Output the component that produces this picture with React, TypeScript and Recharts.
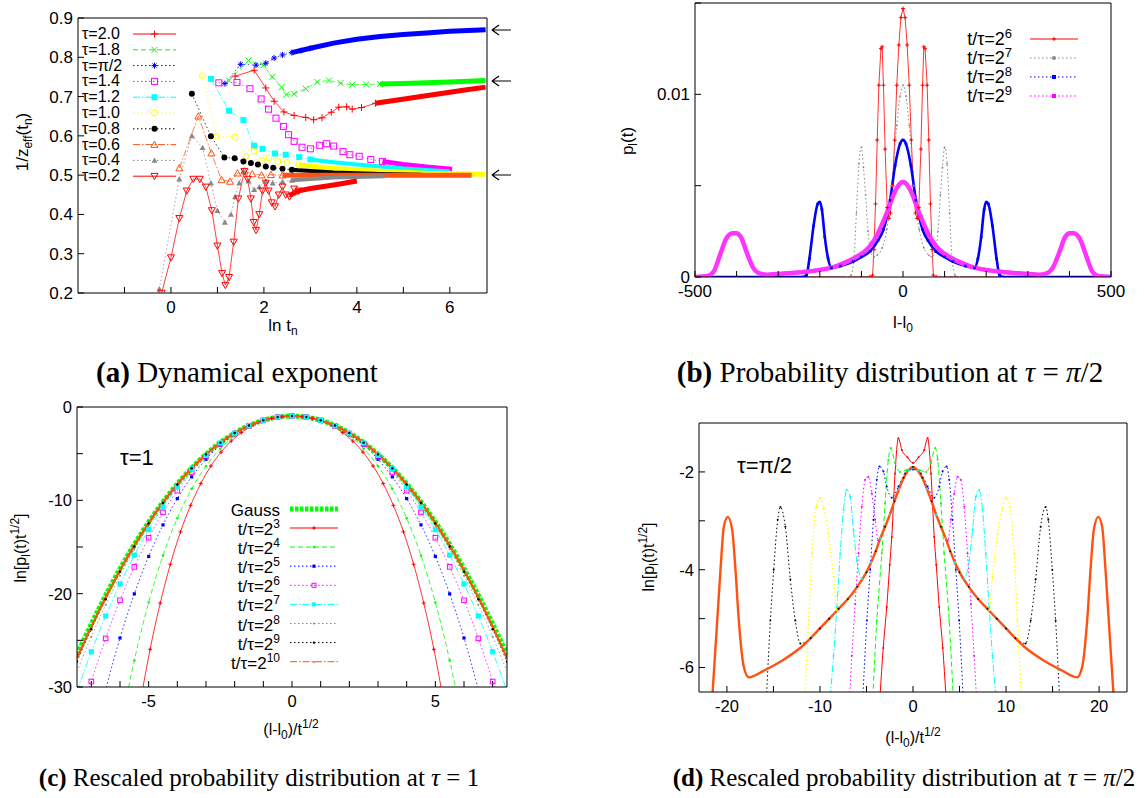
import { LineChart, Line, XAxis, YAxis } from 'recharts'
import type { ReactNode } from 'react'

const SANS = '"Liberation Sans", Arial, Helvetica, sans-serif'
const SERIF = '"Liberation Serif", "Times New Roman", Times, serif'

const RED = '#ff0000'
const GREEN = '#00ff00'
const BLUE = '#0000ff'
const MAGENTA = '#ff00ff'
const CYAN = '#00ffff'
const YELLOW = '#ffff00'
const BLACK = '#000000'
const ORANGE = '#ff5212'
const GRAY = '#888888'

const DASH = '5 3'
const DOT = '1.5 2.5'
const DASHDOT = '7 2 1.5 2'

// ---------- (a) dynamical exponent: x = ln t_n, y = 1/z_eff ----------
const A_X_TICKS = [-1, 0, 1, 2, 3, 4, 5, 6]
const A_Y_TICKS = [0.2, 0.3, 0.4, 0.5, 0.6, 0.7, 0.8, 0.9]

const A_X_T20 = [1.38, 1.79, 2.04, 2.22, 2.43, 2.65, 2.9, 3.07, 3.25, 3.45, 3.61, 3.78, 3.9, 4.1, 4.4]
const A_T20 = [0.752, 0.767, 0.722, 0.688, 0.661, 0.652, 0.647, 0.641, 0.646, 0.66, 0.673, 0.674, 0.668, 0.672, 0.683]
const A_XT_T20 = [4.4, 4.8, 5.2, 5.6, 6.0, 6.4, 6.77]
const A_YT_T20 = [0.683, 0.69, 0.697, 0.704, 0.711, 0.718, 0.724]

const A_X_T18 = [1.25, 1.67, 1.99, 2.18, 2.38, 2.48, 2.65, 2.9, 3.15, 3.4, 3.65, 3.9, 4.2, 4.5]
const A_T18 = [0.741, 0.792, 0.78, 0.75, 0.724, 0.705, 0.707, 0.72, 0.737, 0.741, 0.734, 0.73, 0.731, 0.732]
const A_XT_T18 = [4.5, 5.0, 5.5, 6.0, 6.4, 6.77]
const A_YT_T18 = [0.732, 0.733, 0.735, 0.737, 0.739, 0.741]

const A_X_PI2 = [1.16, 1.5, 1.83, 2.04, 2.22, 2.4, 2.6, 2.8, 3.0]
const A_PI2 = [0.733, 0.782, 0.78, 0.785, 0.798, 0.806, 0.812, 0.817, 0.823]
const A_XT_PI2 = [2.6, 3.0, 3.5, 4.0, 4.5, 5.0, 5.5, 6.0, 6.4, 6.77]
const A_YT_PI2 = [0.812, 0.823, 0.836, 0.846, 0.853, 0.858, 0.862, 0.866, 0.868, 0.87]

const A_X_T14 = [1.03, 1.42, 1.7, 1.94, 2.1, 2.26, 2.42, 2.53, 2.65, 2.82, 3.0, 3.2, 3.35, 3.5, 3.7, 3.85, 4.05, 4.3, 4.55]
const A_T14 = [0.735, 0.736, 0.72, 0.694, 0.668, 0.645, 0.624, 0.603, 0.586, 0.571, 0.567, 0.576, 0.58, 0.574, 0.56, 0.552, 0.548, 0.54, 0.535]
const A_XT_T14 = [4.55, 5.0, 5.5, 6.05]
const A_YT_T14 = [0.535, 0.527, 0.521, 0.515]

const A_X_T12 = [0.86, 1.25, 1.56, 1.79, 1.97, 2.24, 2.47, 2.76, 3.0]
const A_T12 = [0.745, 0.664, 0.64, 0.575, 0.567, 0.555, 0.552, 0.546, 0.54]
const A_XT_T12 = [3.0, 3.5, 4.0, 4.5, 5.0, 5.5, 6.0]
const A_YT_T12 = [0.54, 0.533, 0.527, 0.522, 0.517, 0.513, 0.509]

const A_X_T10 = [0.68, 0.98, 1.38, 1.62, 1.79, 1.96, 2.11, 2.3, 2.5, 2.75]
const A_T10 = [0.753, 0.599, 0.597, 0.548, 0.561, 0.537, 0.544, 0.535, 0.532, 0.526]
const A_XT_T10 = [2.75, 3.5, 4.5, 5.5, 6.77]
const A_YT_T10 = [0.526, 0.517, 0.51, 0.505, 0.502]

const A_X_T08 = [0.45, 0.86, 1.15, 1.37, 1.56, 1.72, 1.87, 2.04, 2.2, 2.4, 2.6]
const A_T08 = [0.707, 0.599, 0.545, 0.543, 0.535, 0.531, 0.527, 0.522, 0.519, 0.516, 0.514]
const A_XT_T08 = [2.6, 3.5, 4.5, 5.4]
const A_YT_T08 = [0.514, 0.507, 0.503, 0.501]

const A_X_T06 = [0.18, 0.59, 0.87, 1.09, 1.27, 1.43, 1.58, 1.75, 1.95, 2.15, 2.4]
const A_T06 = [0.518, 0.65, 0.556, 0.488, 0.484, 0.505, 0.51, 0.503, 0.5, 0.501, 0.5]
const A_XT_T06 = [2.4, 4.0, 5.5, 6.47]
const A_YT_T06 = [0.5, 0.5, 0.5, 0.5]

const A_X_T04 = [-0.25, 0.18, 0.45, 0.68, 0.86, 1.0, 1.16, 1.29, 1.38, 1.47, 1.56, 1.67, 1.79, 1.9, 2.04, 2.19, 2.4, 2.6]
const A_T04 = [0.21, 0.49, 0.6, 0.57, 0.48, 0.41, 0.38, 0.4, 0.445, 0.48, 0.51, 0.485, 0.463, 0.47, 0.485, 0.48, 0.483, 0.487]
const A_XT_T04 = [2.6, 3.5, 4.6]
const A_YT_T04 = [0.487, 0.494, 0.497]

const A_X_T02 = [-0.2, 0, 0.18, 0.34, 0.48, 0.62, 0.75, 0.88, 1.0, 1.1, 1.17, 1.25, 1.35, 1.45, 1.58, 1.65, 1.72, 1.78, 1.83, 1.9, 1.97, 2.04, 2.1, 2.17, 2.24, 2.32, 2.4, 2.47, 2.55, 2.65, 2.75]
const A_T02 = [0.2, 0.29, 0.39, 0.46, 0.49, 0.49, 0.47, 0.41, 0.32, 0.25, 0.22, 0.24, 0.33, 0.44, 0.51, 0.49, 0.44, 0.38, 0.36, 0.4, 0.46, 0.48, 0.46, 0.43, 0.42, 0.45, 0.47, 0.45, 0.445, 0.465, 0.46]
const A_XT_T02 = [2.55, 2.75, 3.0, 3.5, 4.0]
const A_YT_T02 = [0.448, 0.46, 0.466, 0.475, 0.485]

// ---------- (b) probability distribution at tau = pi/2 ----------
const B_X_TICKS = [-500, -400, -300, -200, -100, 0, 100, 200, 300, 400, 500]
const B_Y_TICKS = [0, 0.005, 0.01, 0.015]

const B_X_RED = [-500, -80, -73, -70, -66, -62, -58, -53, -50, -47, -43, -38, -34, -30, -25, -20, -15, -10, -5, 0, 5, 10, 15, 20, 25, 30, 34, 38, 43, 47, 50, 53, 58, 62, 66, 70, 73, 80, 500]
const B_RED = [0, 0, 0.0001, 0.0015, 0.004, 0.0075, 0.0105, 0.0125, 0.0126, 0.0105, 0.007, 0.0038, 0.0032, 0.0035, 0.005, 0.0075, 0.0105, 0.0127, 0.0142, 0.0147, 0.0142, 0.0127, 0.0105, 0.0075, 0.005, 0.0035, 0.0032, 0.0038, 0.007, 0.0105, 0.0126, 0.0125, 0.0105, 0.0075, 0.004, 0.0015, 0.0001, 0, 0]

const B_X_GRAY = [-500, -135, -125, -118, -112, -106, -100, -95, -90, -84, -78, -70, -62, -50, -39, -27, -15, -7, 0, 7, 15, 27, 39, 50, 62, 70, 78, 84, 90, 95, 100, 106, 112, 118, 125, 135, 500]
const B_GRAY = [0, 0, 0.0001, 0.001, 0.0035, 0.0062, 0.0071, 0.006, 0.0045, 0.0025, 0.0014, 0.0011, 0.0012, 0.0016, 0.0026, 0.005, 0.0083, 0.0099, 0.0105, 0.0099, 0.0083, 0.005, 0.0026, 0.0016, 0.0012, 0.0011, 0.0014, 0.0025, 0.0045, 0.006, 0.0071, 0.0062, 0.0035, 0.001, 0.0001, 0, 0]

const B_X_BLUE = [-500, -240, -232, -225, -215, -205, -200, -195, -188, -180, -172, -150, -120, -100, -79, -60, -47, -31, -19, -7, 0, 7, 19, 31, 47, 60, 79, 100, 120, 150, 172, 180, 188, 195, 200, 205, 215, 225, 232, 240, 500]
const B_BLUE = [0, 0, 0.0001, 0.001, 0.0028, 0.004, 0.0041, 0.0037, 0.0022, 0.001, 0.0005, 0.0006, 0.00084, 0.0011, 0.0014, 0.002, 0.0026, 0.0042, 0.0061, 0.0073, 0.0075, 0.0073, 0.0061, 0.0042, 0.0026, 0.002, 0.0014, 0.0011, 0.00084, 0.0006, 0.0005, 0.001, 0.0022, 0.0037, 0.0041, 0.004, 0.0028, 0.001, 0.0001, 0, 0]

const B_X_MAG = [-500, -470, -455, -440, -425, -410, -400, -390, -375, -360, -345, -326, -280, -228, -160, -120, -79, -60, -39, -19, -8, 0, 8, 19, 39, 60, 79, 120, 160, 228, 280, 326, 345, 360, 375, 390, 400, 410, 425, 440, 455, 470, 500]
const B_MAG = [0, 0.00005, 0.0003, 0.0012, 0.0021, 0.0024, 0.0024, 0.0022, 0.0013, 0.0005, 0.0002, 0.00013, 0.0002, 0.0003, 0.0006, 0.001, 0.0017, 0.0024, 0.0035, 0.0047, 0.0051, 0.0052, 0.0051, 0.0047, 0.0035, 0.0024, 0.0017, 0.001, 0.0006, 0.0003, 0.0002, 0.00013, 0.0002, 0.0005, 0.0013, 0.0022, 0.0024, 0.0024, 0.0021, 0.0012, 0.0003, 0.00005, 0]

// ---------- (c) rescaled distribution at tau = 1 ----------
const C_X_TICKS = [-7, -6, -5, -4, -3, -2, -1, 0, 1, 2, 3, 4, 5, 6, 7]
const C_Y_TICKS = [-30, -25, -20, -15, -10, -5, 0]

const C_X_Q = [-7.5, -7.25, -7, -6.75, -6.5, -6.25, -6, -5.75, -5.5, -5.25, -5, -4.75, -4.5, -4.25, -4, -3.75, -3.5, -3.25, -3, -2.75, -2.5, -2.25, -2, -1.75, -1.5, -1.25, -1, -0.75, -0.5, -0.25, 0, 0.25, 0.5, 0.75, 1, 1.25, 1.5, 1.75, 2, 2.25, 2.5, 2.75, 3, 3.25, 3.5, 3.75, 4, 4.25, 4.5, 4.75, 5, 5.25, 5.5, 5.75, 6, 6.25, 6.5, 6.75, 7, 7.25, 7.5]
const C_GAUSS = [-26.54, -24.86, -23.24, -21.68, -20.17, -18.73, -17.33, -16.0, -14.72, -13.5, -12.33, -11.23, -10.17, -9.18, -8.24, -7.36, -6.54, -5.77, -5.06, -4.41, -3.81, -3.27, -2.79, -2.36, -1.99, -1.68, -1.42, -1.23, -1.08, -1.0, -0.97, -1.0, -1.08, -1.23, -1.42, -1.68, -1.99, -2.36, -2.79, -3.27, -3.81, -4.41, -5.06, -5.77, -6.54, -7.36, -8.24, -9.18, -10.17, -11.23, -12.33, -13.5, -14.72, -16.0, -17.33, -18.73, -20.17, -21.68, -23.24, -24.86, -26.54]

const C_X_RED = [-5.303, -4.95, -4.596, -4.243, -3.889, -3.536, -3.182, -2.828, -2.475, -2.121, -1.768, -1.414, -1.061, -0.707, -0.354, 0, 0.354, 0.707, 1.061, 1.414, 1.768, 2.121, 2.475, 2.828, 3.182, 3.536, 3.889, 4.243, 4.596, 4.95, 5.303]
const C_RED = [-31.8, -25.96, -21.0, -16.85, -13.38, -10.54, -8.21, -6.32, -4.83, -3.65, -2.74, -2.05, -1.56, -1.22, -1.03, -0.97, -1.03, -1.22, -1.56, -2.05, -2.74, -3.65, -4.83, -6.32, -8.21, -10.54, -13.38, -16.85, -21.0, -25.96, -31.8]

const C_X_H = [-7.5, -7, -6.5, -6, -5.5, -5, -4.5, -4, -3.5, -3, -2.5, -2, -1.5, -1, -0.5, 0, 0.5, 1, 1.5, 2, 2.5, 3, 3.5, 4, 4.5, 5, 5.5, 6, 6.5, 7, 7.5]
const C_GREEN = [-68.2, -55.0, -43.9, -34.7, -27.15, -20.94, -15.92, -11.92, -8.77, -6.33, -4.47, -3.1, -2.12, -1.46, -1.09, -0.97, -1.09, -1.46, -2.12, -3.1, -4.47, -6.33, -8.77, -11.92, -15.92, -20.94, -27.15, -34.7, -43.9, -55.0, -68.2]
const C_BLUE = [-44.3, -36.8, -30.32, -24.75, -20.02, -16.01, -12.63, -9.81, -7.49, -5.6, -4.09, -2.92, -2.05, -1.44, -1.09, -0.97, -1.09, -1.44, -2.05, -2.92, -4.09, -5.6, -7.49, -9.81, -12.63, -16.01, -20.02, -24.75, -30.32, -36.8, -44.3]
const C_MAG = [-34.6, -29.41, -24.79, -20.71, -17.13, -14.01, -11.29, -8.96, -6.97, -5.31, -3.94, -2.85, -2.02, -1.43, -1.08, -0.97, -1.08, -1.43, -2.02, -2.85, -3.94, -5.31, -6.97, -8.96, -11.29, -14.01, -17.13, -20.71, -24.79, -29.41, -34.6]
const C_CYAN = [-30.44, -26.22, -22.39, -18.96, -15.88, -13.14, -10.71, -8.59, -6.62, -5.18, -3.86, -2.82, -2.01, -1.43, -1.08, -0.97, -1.08, -1.43, -2.01, -2.82, -3.86, -5.18, -6.62, -8.59, -10.71, -13.14, -15.88, -18.96, -22.39, -26.22, -30.44]
const C_GRAY = [-28.33, -24.61, -21.19, -18.08, -15.25, -12.7, -10.42, -8.4, -6.64, -5.11, -3.84, -2.8, -1.99, -1.42, -1.08, -0.97, -1.08, -1.42, -1.99, -2.8, -3.84, -5.11, -6.64, -8.4, -10.42, -12.7, -15.25, -18.08, -21.19, -24.61, -28.33]
const C_BLACK = [-27.28, -23.81, -20.6, -17.64, -14.94, -12.48, -10.27, -8.31, -6.57, -5.08, -3.82, -2.79, -1.99, -1.42, -1.08, -0.97, -1.08, -1.42, -1.99, -2.79, -3.82, -5.08, -6.57, -8.31, -10.27, -12.48, -14.94, -17.64, -20.6, -23.81, -27.28]
const C_ORG = [-26.91, -23.53, -20.38, -17.49, -14.83, -12.41, -10.22, -8.27, -6.55, -5.07, -3.81, -2.79, -1.99, -1.42, -1.08, -0.97, -1.08, -1.42, -1.99, -2.79, -3.81, -5.07, -6.55, -8.27, -10.22, -12.41, -14.83, -17.49, -20.38, -23.53, -26.91]

// ---------- (d) rescaled distribution at tau = pi/2 ----------
const D_X_TICKS = [-20, -15, -10, -5, 0, 5, 10, 15, 20]
const D_Y_TICKS = [-6, -5, -4, -3, -2]

const D_X_RED = [-3.55, -3.2, -2.82, -2.5, -2.28, -1.93, -1.57, -1.2, -0.6, 0, 0.6, 1.2, 1.57, 1.93, 2.28, 2.5, 2.82, 3.2, 3.55]
const D_RED = [-6.6, -5.6, -4.76, -3.9, -3.33, -2.03, -1.31, -1.55, -1.7, -1.82, -1.7, -1.55, -1.31, -2.03, -3.33, -3.9, -4.76, -5.6, -6.6]

const D_X_GREEN = [-4.32, -3.89, -3.35, -3.0, -2.65, -2.39, -1.93, -1.4, -0.7, 0, 0.7, 1.4, 1.93, 2.39, 2.65, 3.0, 3.35, 3.89, 4.32]
const D_GREEN = [-6.6, -5.04, -3.67, -2.64, -1.75, -1.51, -1.82, -2.0, -1.96, -1.93, -1.96, -2.0, -1.82, -1.51, -1.75, -2.64, -3.67, -5.04, -6.6]

const D_X_BLUE = [-5.39, -4.96, -4.6, -4.25, -3.89, -3.61, -3.18, -2.82, -2.28, -1.57, -0.86, 0, 0.86, 1.57, 2.28, 2.82, 3.18, 3.61, 3.89, 4.25, 4.6, 4.96, 5.39]
const D_BLUE = [-6.6, -5.04, -4.0, -2.98, -2.16, -1.89, -1.99, -2.3, -2.53, -2.3, -2.03, -1.95, -2.03, -2.3, -2.53, -2.3, -1.99, -1.89, -2.16, -2.98, -4.0, -5.04, -6.6]

const D_X_MAG = [-6.82, -6.57, -6.22, -5.86, -5.5, -5.14, -4.79, -4.43, -4.07, -3.75, -3.0, -2.0, -1.0, 0, 1.0, 2.0, 3.0, 3.75, 4.07, 4.43, 4.79, 5.14, 5.5, 5.86, 6.22, 6.57, 6.82]
const D_MAG = [-6.6, -5.76, -4.7, -3.67, -2.71, -2.16, -2.1, -2.44, -2.98, -3.4, -3.12, -2.6, -2.12, -1.92, -2.12, -2.6, -3.12, -3.4, -2.98, -2.44, -2.1, -2.16, -2.71, -3.67, -4.7, -5.76, -6.6]

const D_X_CYAN = [-8.9, -8.54, -8.18, -7.82, -7.47, -7.11, -6.75, -6.4, -6.04, -5.5, -4.5, -3.5, -2.5, -1.5, -0.5, 0, 0.5, 1.5, 2.5, 3.5, 4.5, 5.5, 6.04, 6.4, 6.75, 7.11, 7.47, 7.82, 8.18, 8.54, 8.9]
const D_CYAN = [-6.6, -5.76, -4.76, -3.67, -2.78, -2.37, -2.51, -3.19, -3.81, -4.18, -3.85, -3.35, -2.88, -2.35, -1.97, -1.92, -1.97, -2.35, -2.88, -3.35, -3.85, -4.18, -3.81, -3.19, -2.51, -2.37, -2.78, -3.67, -4.76, -5.76, -6.6]

const D_X_YEL = [-11.65, -11.22, -10.86, -10.4, -10.0, -9.6, -9.08, -8.54, -8.18, -7, -6, -5, -4, -3, -2, -1, 0, 1, 2, 3, 4, 5, 6, 7, 8.18, 8.54, 9.08, 9.6, 10.0, 10.4, 10.86, 11.22, 11.65]
const D_YEL = [-6.6, -5.04, -3.67, -2.71, -2.53, -2.75, -3.26, -4.15, -4.83, -4.6, -4.35, -4.05, -3.62, -3.12, -2.6, -2.12, -1.9, -2.12, -2.6, -3.12, -3.62, -4.05, -4.35, -4.6, -4.83, -4.15, -3.26, -2.75, -2.53, -2.71, -3.67, -5.04, -6.6]

const D_X_BLK = [-15.75, -15.33, -14.97, -14.54, -14.25, -13.72, -13.18, -12.65, -12.1, -11, -10, -9, -8, -7, -6, -5, -4, -3, -2, -1, 0, 1, 2, 3, 4, 5, 6, 7, 8, 9, 10, 11, 12.1, 12.65, 13.18, 13.72, 14.25, 14.54, 14.97, 15.33, 15.75]
const D_BLK = [-6.6, -5.04, -4.0, -2.98, -2.72, -3.12, -4.2, -5.04, -5.51, -5.4, -5.2, -5.0, -4.8, -4.6, -4.35, -4.05, -3.62, -3.12, -2.6, -2.12, -1.9, -2.12, -2.6, -3.12, -3.62, -4.05, -4.35, -4.6, -4.8, -5.0, -5.2, -5.4, -5.51, -5.04, -4.2, -3.12, -2.72, -2.98, -4.0, -5.04, -6.6]

const D_X_ORG = [-21.57, -21.04, -20.69, -20.33, -19.9, -19.43, -19.08, -18.72, -18.18, -17.65, -16, -14, -12, -10, -9, -8, -7, -6, -5, -4, -3.5, -3, -2.5, -2, -1.5, -1, -0.5, 0, 0.5, 1, 1.5, 2, 2.5, 3, 3.5, 4, 5, 6, 7, 8, 9, 10, 12, 14, 16, 17.65, 18.18, 18.72, 19.08, 19.43, 19.9, 20.33, 20.69, 21.04, 21.57]
const D_ORG = [-6.6, -5.04, -4.0, -3.12, -2.92, -3.19, -4.0, -5.04, -5.99, -6.2, -6.06, -5.85, -5.58, -5.2, -5.0, -4.8, -4.6, -4.35, -4.05, -3.62, -3.35, -3.12, -2.88, -2.6, -2.35, -2.12, -1.97, -1.9, -1.97, -2.12, -2.35, -2.6, -2.88, -3.12, -3.35, -3.62, -4.05, -4.35, -4.6, -4.8, -5.0, -5.2, -5.58, -5.85, -6.06, -6.2, -5.99, -5.04, -4.0, -3.19, -2.92, -3.12, -4.0, -5.04, -6.6]

const pts = (xs: number[], ys: number[]) => xs.map((x, i) => ({ x, y: ys[i] }))

type Mk = 'plus' | 'cross' | 'star' | 'sq' | 'sqo' | 'circ' | 'circo' | 'tri' | 'trio' | 'dtrio' | 'dot' | 'none'

function drawMarker(kind: Mk, color: string, r: number, cx: number, cy: number, key?: string) {
  const common = { stroke: color, strokeWidth: 1, fill: 'none' }
  switch (kind) {
    case 'plus':
      return <path key={key} d={`M${cx - r},${cy}H${cx + r}M${cx},${cy - r}V${cy + r}`} {...common} />
    case 'cross':
      return <path key={key} d={`M${cx - r},${cy - r}L${cx + r},${cy + r}M${cx - r},${cy + r}L${cx + r},${cy - r}`} {...common} />
    case 'star':
      return (
        <path
          key={key}
          d={`M${cx - r},${cy}H${cx + r}M${cx},${cy - r}V${cy + r}M${cx - r * 0.7},${cy - r * 0.7}L${cx + r * 0.7},${cy + r * 0.7}M${cx - r * 0.7},${cy + r * 0.7}L${cx + r * 0.7},${cy - r * 0.7}`}
          {...common}
        />
      )
    case 'sq':
      return <rect key={key} x={cx - r} y={cy - r} width={2 * r} height={2 * r} fill={color} />
    case 'sqo':
      return <rect key={key} x={cx - r} y={cy - r} width={2 * r} height={2 * r} {...common} />
    case 'circ':
      return <circle key={key} cx={cx} cy={cy} r={r} fill={color} />
    case 'circo':
      return <circle key={key} cx={cx} cy={cy} r={r} {...common} />
    case 'tri':
      return <path key={key} d={`M${cx},${cy - r}L${cx + r},${cy + r * 0.8}L${cx - r},${cy + r * 0.8}Z`} fill={color} />
    case 'trio':
      return <path key={key} d={`M${cx},${cy - r}L${cx + r},${cy + r * 0.8}L${cx - r},${cy + r * 0.8}Z`} {...common} />
    case 'dtrio':
      return <path key={key} d={`M${cx},${cy + r}L${cx + r},${cy - r * 0.8}L${cx - r},${cy - r * 0.8}Z`} {...common} />
    case 'dot':
      return <circle key={key} cx={cx} cy={cy} r={r} fill={color} />
    default:
      return <g key={key} />
  }
}

const dotFn = (kind: Mk, color: string, r: number) => (p: any) => {
  const key = `d${p.index}`
  if (p.cx == null || p.cy == null || !isFinite(p.cx) || !isFinite(p.cy)) return <g key={key} />
  return drawMarker(kind, color, r, p.cx, p.cy, key)
}

const LW = 70
const RW = 30
const TH = 20
const BH = 40

function Panel(props: {
  left: number
  top: number
  w: number
  h: number
  font: number
  xDomain: [number, number]
  xTicks: number[]
  xFmt: (v: number) => string
  yDomain: [number, number]
  yTicks: number[]
  yFmt: (v: number) => string
  children: ReactNode
}) {
  const { left, top, w, h } = props
  const tickStyle = { fill: '#000', fontSize: props.font, fontFamily: SANS }
  return (
    <div style={{ position: 'absolute', left: left - LW, top: top - TH }}>
      <LineChart width={LW + w + RW} height={TH + h + BH} margin={{ top: 0, right: 0, bottom: 0, left: 0 }}>
        <XAxis
          xAxisId="b"
          type="number"
          dataKey="x"
          domain={props.xDomain}
          ticks={props.xTicks}
          tickFormatter={props.xFmt}
          interval={0}
          allowDataOverflow
          height={BH}
          tickSize={-6}
          tickMargin={14}
          stroke="#000"
          tick={tickStyle}
        />
        <XAxis
          xAxisId="t"
          orientation="top"
          type="number"
          dataKey="x"
          domain={props.xDomain}
          ticks={props.xTicks}
          interval={0}
          allowDataOverflow
          height={TH}
          tickSize={-6}
          tick={false}
          stroke="#000"
        />
        <YAxis
          yAxisId="l"
          type="number"
          domain={props.yDomain}
          ticks={props.yTicks}
          tickFormatter={props.yFmt}
          interval={0}
          allowDataOverflow
          width={LW}
          tickSize={-6}
          tickMargin={11}
          stroke="#000"
          tick={tickStyle}
        />
        <YAxis
          yAxisId="r"
          orientation="right"
          type="number"
          domain={props.yDomain}
          ticks={props.yTicks}
          interval={0}
          allowDataOverflow
          width={RW}
          tickSize={-6}
          tick={false}
          stroke="#000"
        />
        {props.children}
      </LineChart>
    </div>
  )
}

function series(
  key: string,
  data: { x: number; y: number }[],
  color: string,
  opts: { width?: number; dash?: string; mk?: Mk; r?: number; curve?: 'linear' | 'monotone'; opacity?: number } = {}
) {
  return (
    <Line
      key={key}
      data={data}
      dataKey="y"
      xAxisId="b"
      yAxisId="l"
      type={opts.curve ?? 'linear'}
      stroke={color}
      strokeOpacity={opts.opacity ?? 1}
      strokeWidth={opts.width ?? 1}
      strokeDasharray={opts.dash}
      dot={opts.mk && opts.mk !== 'none' ? dotFn(opts.mk, color, opts.r ?? 2) : false}
      activeDot={false}
      isAnimationActive={false}
    />
  )
}

const A_SERIES = [
  { label: '2.0', xs: A_X_T20, ys: A_T20, tx: A_XT_T20, ty: A_YT_T20, color: RED, dash: undefined, mk: 'plus' as Mk, r: 3.5, tw: 5 },
  { label: '1.8', xs: A_X_T18, ys: A_T18, tx: A_XT_T18, ty: A_YT_T18, color: GREEN, dash: DASH, mk: 'cross' as Mk, r: 3, tw: 5 },
  { label: 'π/2', xs: A_X_PI2, ys: A_PI2, tx: A_XT_PI2, ty: A_YT_PI2, color: BLUE, dash: DOT, mk: 'star' as Mk, r: 3, tw: 5 },
  { label: '1.4', xs: A_X_T14, ys: A_T14, tx: A_XT_T14, ty: A_YT_T14, color: MAGENTA, dash: DOT, mk: 'sqo' as Mk, r: 3, tw: 5 },
  { label: '1.2', xs: A_X_T12, ys: A_T12, tx: A_XT_T12, ty: A_YT_T12, color: CYAN, dash: DASHDOT, mk: 'sq' as Mk, r: 3, tw: 4 },
  { label: '1.0', xs: A_X_T10, ys: A_T10, tx: A_XT_T10, ty: A_YT_T10, color: YELLOW, dash: DOT, mk: 'circo' as Mk, r: 3, tw: 5 },
  { label: '0.8', xs: A_X_T08, ys: A_T08, tx: A_XT_T08, ty: A_YT_T08, color: BLACK, dash: DOT, mk: 'circ' as Mk, r: 3, tw: 4 },
  { label: '0.6', xs: A_X_T06, ys: A_T06, tx: A_XT_T06, ty: A_YT_T06, color: ORANGE, dash: DASHDOT, mk: 'trio' as Mk, r: 3.5, tw: 5 },
  { label: '0.4', xs: A_X_T04, ys: A_T04, tx: A_XT_T04, ty: A_YT_T04, color: GRAY, dash: DOT, mk: 'tri' as Mk, r: 3, tw: 4 },
  { label: '0.2', xs: A_X_T02, ys: A_T02, tx: A_XT_T02, ty: A_YT_T02, color: RED, dash: undefined, mk: 'dtrio' as Mk, r: 3.5, tw: 5 }
]

const C_SERIES = [
  { exp: '3', xs: C_X_RED, ys: C_RED, color: RED, dash: undefined, mk: 'plus' as Mk, r: 2, w: 1 },
  { exp: '4', xs: C_X_H, ys: C_GREEN, color: GREEN, dash: DASH, mk: 'dot' as Mk, r: 1.3, w: 1 },
  { exp: '5', xs: C_X_H, ys: C_BLUE, color: BLUE, dash: DOT, mk: 'sq' as Mk, r: 1.6, w: 1 },
  { exp: '6', xs: C_X_H, ys: C_MAG, color: MAGENTA, dash: DOT, mk: 'sqo' as Mk, r: 2.3, w: 1 },
  { exp: '7', xs: C_X_H, ys: C_CYAN, color: CYAN, dash: DASHDOT, mk: 'sq' as Mk, r: 2.6, w: 1 },
  { exp: '8', xs: C_X_H, ys: C_GRAY, color: GRAY, dash: DOT, mk: 'dot' as Mk, r: 1, w: 1 },
  { exp: '9', xs: C_X_H, ys: C_BLACK, color: BLACK, dash: DOT, mk: 'dot' as Mk, r: 1.2, w: 1 },
  { exp: '10', xs: C_X_H, ys: C_ORG, color: ORANGE, dash: undefined, mk: 'none' as Mk, r: 1.2, w: 2.2 }
]

const D_SERIES = [
  { xs: D_X_RED, ys: D_RED, color: RED, dash: undefined, w: 1 },
  { xs: D_X_GREEN, ys: D_GREEN, color: GREEN, dash: DASH, w: 1 },
  { xs: D_X_BLUE, ys: D_BLUE, color: BLUE, dash: DOT, w: 1 },
  { xs: D_X_MAG, ys: D_MAG, color: MAGENTA, dash: DOT, w: 1 },
  { xs: D_X_CYAN, ys: D_CYAN, color: CYAN, dash: DASHDOT, w: 1 },
  { xs: D_X_YEL, ys: D_YEL, color: YELLOW, dash: DOT, w: 1.2 },
  { xs: D_X_BLK, ys: D_BLK, color: BLACK, dash: DOT, w: 1 },
  { xs: D_X_ORG, ys: D_ORG, color: ORANGE, dash: undefined, w: 2.4 }
]

function Sample(p: { x1: number; x2: number; y: number; color: string; dash?: string; w?: number; mk?: Mk; r?: number }) {
  const cx = (p.x1 + p.x2) / 2
  return (
    <g>
      <line x1={p.x1} x2={p.x2} y1={p.y} y2={p.y} stroke={p.color} strokeWidth={p.w ?? 1} strokeDasharray={p.dash} />
      {p.mk && p.mk !== 'none' ? drawMarker(p.mk, p.color, p.r ?? 2, cx, p.y) : null}
    </g>
  )
}

function Overlay() {
  const sub = 12
  return (
    <svg width={1144} height={798} style={{ position: 'absolute', left: 0, top: 0, pointerEvents: 'none' }}>
      {/* (a) labels */}
      <text transform="translate(28,142) rotate(-90)" textAnchor="middle" fontFamily={SANS} fontSize={17}>
        1/z<tspan fontSize={sub} dy={4}>eff</tspan>
        <tspan dy={-4}>(t</tspan>
        <tspan fontSize={sub} dy={4}>n</tspan>
        <tspan dy={-4}>)</tspan>
      </text>
      <text x={283} y={331} textAnchor="middle" fontFamily={SANS} fontSize={17}>
        ln t<tspan fontSize={sub} dy={4}>n</tspan>
      </text>
      {A_SERIES.map((s, i) => {
        const y = 34 + i * 15.8
        return (
          <g key={'al' + i}>
            <text x={82} y={y + 5} fontFamily={SANS} fontSize={16}>
              τ={s.label}
            </text>
            <Sample x1={133} x2={176} y={y} color={s.color} dash={s.dash} mk={s.mk} r={s.r} />
          </g>
        )
      })}
      {[30, 81, 175].map((y) => (
        <path key={'ar' + y} d={`M492,${y}H511M492,${y}L499,${y - 5}M492,${y}L499,${y + 5}`} stroke="#000" strokeWidth={1.2} fill="none" />
      ))}

      {/* (b) labels */}
      <text transform="translate(633,141) rotate(-90)" textAnchor="middle" fontFamily={SANS} fontSize={17}>
        p<tspan fontSize={sub} dy={4}>l</tspan>
        <tspan dy={-4}>(t)</tspan>
      </text>
      <text x={903} y={328} textAnchor="middle" fontFamily={SANS} fontSize={17}>
        l-l<tspan fontSize={sub} dy={4}>0</tspan>
      </text>
      {[
        { e: '6', color: RED, dash: undefined, mk: 'plus' as Mk, w: 1 },
        { e: '7', color: GRAY, dash: DOT, mk: 'dot' as Mk, w: 1 },
        { e: '8', color: BLUE, dash: DOT, mk: 'sq' as Mk, w: 1 },
        { e: '9', color: MAGENTA, dash: DOT, mk: 'sq' as Mk, w: 1 }
      ].map((s, i) => {
        const y = 39 + i * 19
        return (
          <g key={'bl' + i}>
            <text x={1012} y={y + 6} textAnchor="end" fontFamily={SANS} fontSize={18}>
              t/τ=2<tspan dy={-7} fontSize={13}>{s.e}</tspan>
            </text>
            <Sample x1={1030} x2={1078} y={y} color={s.color} dash={s.dash} mk={s.mk} r={2} w={s.w} />
          </g>
        )
      })}

      {/* (c) labels */}
      <text transform="translate(26,548) rotate(-90)" textAnchor="middle" fontFamily={SANS} fontSize={16}>
        ln[p<tspan fontSize={sub} dy={4}>l</tspan>
        <tspan dy={-4}>(t)t</tspan>
        <tspan fontSize={sub} dy={-7}>1/2</tspan>
        <tspan dy={7}>]</tspan>
      </text>
      <text x={291} y={735} textAnchor="middle" fontFamily={SANS} fontSize={16}>
        (l-l<tspan fontSize={sub} dy={4}>0</tspan>
        <tspan dy={-4}>)/t</tspan>
        <tspan fontSize={sub} dy={-7}>1/2</tspan>
      </text>
      <text x={120} y={465} fontFamily={SANS} fontSize={22}>
        τ=1
      </text>
      <text x={280} y={516} textAnchor="end" fontFamily={SANS} fontSize={17}>
        Gauss
      </text>
      <line x1={290} x2={338} y1={509} y2={509} stroke={GREEN} strokeWidth={5} strokeDasharray="3.5 1.5" />
      {C_SERIES.map((s, i) => {
        const y = 528 + i * 19.1
        return (
          <g key={'cl' + i}>
            <text x={280} y={y + 7} textAnchor="end" fontFamily={SANS} fontSize={17}>
              t/τ=2<tspan dy={-7} fontSize={12}>{s.exp}</tspan>
            </text>
            <Sample x1={290} x2={338} y={y} color={s.color} dash={s.dash ?? (s.exp === '10' ? DASHDOT : undefined)} mk={s.mk === 'none' ? 'tri' : s.mk} r={Math.min(s.r, 2)} w={1} />
          </g>
        )
      })}

      {/* (d) labels */}
      <text transform="translate(654,557) rotate(-90)" textAnchor="middle" fontFamily={SANS} fontSize={16}>
        ln[p<tspan fontSize={sub} dy={4}>l</tspan>
        <tspan dy={-4}>(t)t</tspan>
        <tspan fontSize={sub} dy={-7}>1/2</tspan>
        <tspan dy={7}>]</tspan>
      </text>
      <text x={913} y={743} textAnchor="middle" fontFamily={SANS} fontSize={16}>
        (l-l<tspan fontSize={sub} dy={4}>0</tspan>
        <tspan dy={-4}>)/t</tspan>
        <tspan fontSize={sub} dy={-7}>1/2</tspan>
      </text>
      <text x={737} y={473} fontFamily={SANS} fontSize={22}>
        τ=π/2
      </text>

      {/* captions */}
      <text x={237} y={382} textAnchor="middle" fontFamily={SERIF} fontSize={29}>
        <tspan fontWeight="bold">(a)</tspan> Dynamical exponent
      </text>
      <text x={890} y={382} textAnchor="middle" fontFamily={SERIF} fontSize={29}>
        <tspan fontWeight="bold">(b)</tspan> Probability distribution at <tspan fontStyle="italic">τ</tspan> = <tspan fontStyle="italic">π</tspan>/2
      </text>
      <text x={259} y={786} textAnchor="middle" fontFamily={SERIF} fontSize={25}>
        <tspan fontWeight="bold">(c)</tspan> Rescaled probability distribution at <tspan fontStyle="italic">τ</tspan> = 1
      </text>
      <text x={904} y={786} textAnchor="middle" fontFamily={SERIF} fontSize={25}>
        <tspan fontWeight="bold">(d)</tspan> Rescaled probability distribution at <tspan fontStyle="italic">τ</tspan> = <tspan fontStyle="italic">π</tspan>/2
      </text>
    </svg>
  )
}

export default function App() {
  return (
    <div style={{ position: 'absolute', left: 0, top: 0, width: 1144, height: 798, overflow: 'hidden', background: '#fff' }}>
      <Panel
        left={78}
        top={18}
        w={409}
        h={275}
        font={17}
        xDomain={[-2, 6.8]}
        xTicks={A_X_TICKS}
        xFmt={(v) => (v >= 0 && v % 2 === 0 ? String(v) : '')}
        yDomain={[0.2, 0.9]}
        yTicks={A_Y_TICKS}
        yFmt={(v) => v.toFixed(1)}
      >
        {A_SERIES.flatMap((s, i) => [
          series('at' + i, pts(s.tx, s.ty), s.color, { width: s.tw }),
          series('am' + i, pts(s.xs, s.ys), s.color, { dash: s.dash, mk: s.mk, r: s.r, opacity: 0.75 })
        ])}
      </Panel>

      <Panel
        left={695}
        top={3}
        w={416}
        h={274}
        font={17}
        xDomain={[-500, 500]}
        xTicks={B_X_TICKS}
        xFmt={(v) => (v === -500 || v === 0 || v === 500 ? String(v) : '')}
        yDomain={[0, 0.015]}
        yTicks={B_Y_TICKS}
        yFmt={(v) => (v === 0 ? '0' : v === 0.01 ? '0.01' : '')}
      >
        {series('br', pts(B_X_RED, B_RED), RED, { mk: 'plus', r: 2, opacity: 0.8 })}
        {series('bg', pts(B_X_GRAY, B_GRAY), GRAY, { dash: DOT, mk: 'dot', r: 0.9, curve: 'monotone' })}
        {series('bb', pts(B_X_BLUE, B_BLUE), BLUE, { width: 2.6, mk: 'sq', r: 1.3, curve: 'monotone' })}
        {series('bm', pts(B_X_MAG, B_MAG), '#ff33ff', { width: 4.5, curve: 'monotone' })}
      </Panel>

      <Panel
        left={77}
        top={407}
        w={430}
        h={280}
        font={16.5}
        xDomain={[-7.5, 7.5]}
        xTicks={C_X_TICKS}
        xFmt={(v) => (v === -5 || v === 0 || v === 5 ? String(v) : '')}
        yDomain={[-30, 0]}
        yTicks={C_Y_TICKS}
        yFmt={(v) => (v % 10 === 0 ? String(v) : '')}
      >
        {series('cg', pts(C_X_Q, C_GAUSS), GREEN, { width: 5, dash: '3.5 1.5', curve: 'monotone' })}
        {C_SERIES.map((s, i) =>
          series('c' + i, pts(s.xs, s.ys), s.color, { dash: s.dash, mk: s.mk, r: s.r, width: s.w, curve: 'monotone', opacity: s.w > 1 ? 1 : 0.8 })
        )}
      </Panel>

      <Panel
        left={699}
        top={423}
        w={428}
        h={269}
        font={16.5}
        xDomain={[-23, 23]}
        xTicks={D_X_TICKS}
        xFmt={(v) => (v % 10 === 0 ? String(v) : '')}
        yDomain={[-6.5, -1]}
        yTicks={D_Y_TICKS}
        yFmt={(v) => (v % 2 === 0 ? String(v) : '')}
      >
        {D_SERIES.map((s, i) =>
          series('d' + i, pts(s.xs, s.ys), s.color, { dash: s.dash, width: s.w, mk: s.w > 2 ? 'none' : 'dot', r: 1, curve: 'monotone' })
        )}
      </Panel>

      <Overlay />
    </div>
  )
}
